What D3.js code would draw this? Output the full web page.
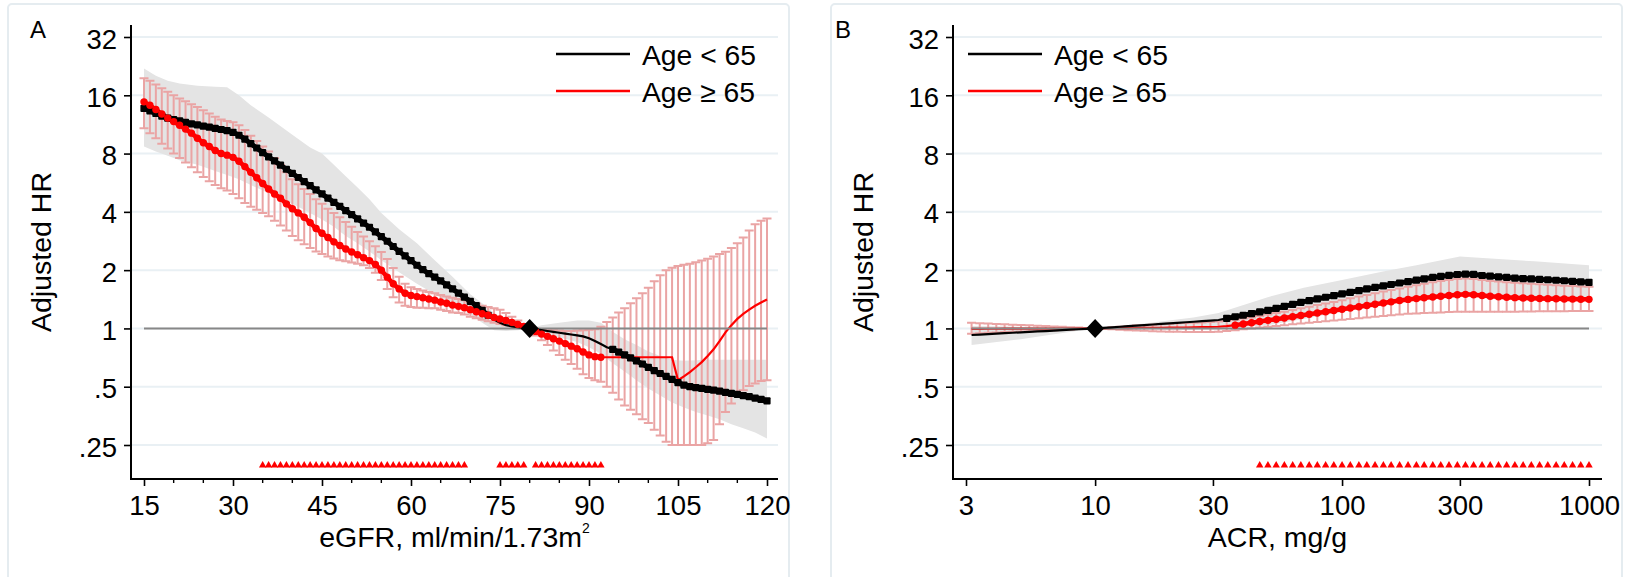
<!DOCTYPE html>
<html><head><meta charset="utf-8">
<script src="https://cdn.jsdelivr.net/npm/d3@7"></script>
<style>
body{margin:0;background:#fff}
svg{display:block}
text{font-family:"Liberation Sans",Arial,Helvetica,sans-serif;fill:#000}
</style>
</head><body>
<svg id="c" width="1625" height="577"></svg>
<script>
// ---------------- shared y axis ----------------
const yTicks = [0.25, 0.5, 1, 2, 4, 8, 16, 32];
const yTickLabels = [".25", ".5", "1", "2", "4", "8", "16", "32"];

// ---------------- Panel A : eGFR ----------------
const egfr = [15,16,17,18,19,20,21,22,23,24,25,26,27,28,29,30,31,32,33,34,35,36,37,38,39,40,41,42,43,44,45,46,47,48,49,50,51,52,53,54,55,56,57,58,59,60,61,62,63,64,65,66,67,68,69,70,71,72,73,74,75,76,77,78,79,80,81,82,83,84,85,86,87,88,89,90,91,92,93,94,95,96,97,98,99,100,101,102,103,104,105,106,107,108,109,110,111,112,113,114,115,116,117,118,119,120];
const egfrTicks = [15, 30, 45, 60, 75, 90, 105, 120];
const egfrMinorTicks = [20,25,35,40,50,55,65,70,80,85,95,100,110,115];

const blackA = [13.7,13.3,12.9,12.5,12.2,12.0,11.8,11.6,11.4,11.25,
 11.1,10.95,10.8,10.65,10.5,10.3,9.95,9.5,9.0,8.55,
 8.1,7.7,7.33,6.98,6.64,6.32,6.02,5.73,5.46,5.19,
 4.95,4.71,4.48,4.27,4.06,3.87,3.68,3.50,3.33,3.15,
 2.98,2.82,2.65,2.50,2.37,2.24,2.12,2.01,1.92,1.84,
 1.76,1.68,1.60,1.52,1.45,1.38,1.31,1.24,1.17,1.11,
 1.07,1.04,1.025,1.015,1.007,1.0,0.99,0.98,0.97,0.96,
 0.95,0.94,0.93,0.92,0.91,0.89,0.86,0.83,0.80,0.78,
 0.755,0.73,0.705,0.68,0.655,0.63,0.605,0.585,0.565,0.545,
 0.525,0.51,0.50,0.495,0.49,0.485,0.48,0.474,0.468,0.462,
 0.456,0.45,0.444,0.437,0.43,0.423];
const blackMarkA = [[15,73],[94,120]];

const bandAx  = [15,17,19,21,24,27,29,31,33,36,40,43,45,47,49,51,53,55,58,61,64,67,70,72,74,76,78,80,82,85,88,90,92,94,96,98,100,102,104,106,108,110,112,114,116,118,120];
const bandAlo = [8.7,8.2,7.8,7.4,7.0,6.5,6.2,5.9,5.5,5.0,4.4,3.95,3.65,3.35,3.0,2.75,2.5,2.25,1.95,1.7,1.5,1.32,1.18,1.07,0.98,0.97,0.98,1.0,0.95,0.9,0.85,0.8,0.74,0.66,0.6,0.54,0.49,0.45,0.415,0.39,0.37,0.355,0.34,0.32,0.305,0.29,0.27];
const bandAhi = [22.0,20.2,19.0,18.4,17.9,17.7,17.6,16.0,14.2,12.3,10.0,8.6,8.0,7.0,6.1,5.35,4.65,3.95,3.25,2.75,2.25,1.85,1.5,1.35,1.2,1.1,1.05,1.0,1.04,1.07,1.1,1.1,1.07,0.96,0.88,0.82,0.76,0.72,0.69,0.68,0.685,0.69,0.69,0.69,0.69,0.69,0.69];

const redA = [14.8,14.2,13.5,12.8,12.2,11.7,11.2,10.7,10.2,9.6,
 9.1,8.7,8.3,8.0,7.85,7.65,7.3,6.85,6.4,6.0,
 5.6,5.25,4.95,4.7,4.4,4.15,3.95,3.75,3.52,3.28,
 3.1,2.95,2.8,2.68,2.57,2.48,2.40,2.32,2.24,2.14,
 2.0,1.84,1.70,1.60,1.52,1.48,1.46,1.44,1.42,1.40,
 1.37,1.35,1.32,1.30,1.28,1.25,1.22,1.19,1.17,1.14,
 1.12,1.10,1.075,1.05,1.025,1.0,0.965,0.935,0.91,0.885,
 0.86,0.835,0.81,0.785,0.755,0.73,0.715,0.71,0.71,0.71,
 0.71,0.71,0.71,0.71,0.71,0.71,0.71,0.71,0.71,0.71,
 0.54,0.565,0.595,0.63,0.67,0.72,0.78,0.86,0.955,1.04,
 1.12,1.19,1.25,1.31,1.36,1.41];
const redLoA = [10.8,10.2,9.6,9.0,8.5,8.0,7.6,7.2,6.8,6.4,
 6.05,5.75,5.5,5.3,5.15,4.95,4.7,4.45,4.25,4.1,
 3.95,3.8,3.6,3.4,3.2,3.0,2.85,2.72,2.6,2.5,
 2.42,2.35,2.3,2.25,2.22,2.19,2.16,2.12,2.05,1.94,
 1.78,1.6,1.45,1.36,1.31,1.29,1.28,1.28,1.27,1.27,
 1.25,1.23,1.21,1.20,1.18,1.15,1.13,1.11,1.09,1.07,
 1.055,1.04,1.03,1.02,1.01,1.0,0.92,0.87,0.82,0.77,
 0.73,0.69,0.655,0.62,0.58,0.555,0.54,0.53,0.5,0.465,
 0.43,0.40,0.38,0.36,0.34,0.325,0.30,0.28,0.26,0.25,
 0.25,0.25,0.25,0.25,0.25,0.255,0.265,0.32,0.37,0.41,
 0.45,0.48,0.505,0.52,0.535,0.54];
const redHiA = [19.6,19.0,18.2,17.4,16.7,16.0,15.4,14.9,14.4,13.9,
 13.4,12.9,12.4,12.0,11.8,11.6,11.2,10.6,9.9,9.3,
 8.7,8.2,7.6,7.0,6.4,5.9,5.55,5.25,4.95,4.65,
 4.4,4.15,3.95,3.75,3.55,3.35,3.15,2.98,2.82,2.66,
 2.48,2.28,2.05,1.85,1.70,1.63,1.60,1.57,1.54,1.52,
 1.49,1.46,1.44,1.42,1.40,1.37,1.34,1.31,1.29,1.27,
 1.25,1.20,1.15,1.10,1.05,1.0,0.995,0.99,0.985,0.98,
 0.975,0.97,0.97,0.975,0.98,0.985,0.99,1.02,1.08,1.14,
 1.21,1.27,1.35,1.43,1.52,1.62,1.75,1.88,2.0,2.06,
 2.10,2.13,2.16,2.20,2.24,2.29,2.35,2.42,2.49,2.6,
 2.75,2.95,3.2,3.45,3.6,3.7];
const redMarkA = [[15,92]];
const triA = [35,36,37,38,39,40,41,42,43,44,45,46,47,48,49,50,51,52,53,54,55,56,57,58,59,60,61,62,63,64,65,66,67,68,69,75,76,77,78,79,81,82,83,84,85,86,87,88,89,90,91,92];

// ---------------- Panel B : ACR ----------------
const acr = [3.16,3.41,3.69,3.98,4.30,4.64,5.01,5.41,5.84,6.31,6.81,7.36,7.94,8.58,9.26,
 10,10.8,11.7,12.6,13.6,14.7,15.8,17.1,18.5,20.0,21.5,23.3,25.1,27.1,29.3,
 31.6,34.1,36.9,39.8,43.0,46.4,50.1,54.1,58.4,63.1,68.1,73.6,79.4,85.8,92.6,
 100,108,117,126,136,147,158,171,185,200,215,233,251,271,293,
 316,341,369,398,430,464,501,541,584,631,681,736,794,858,926,1000];
const acrTicks = [3, 10, 30, 100, 300, 1000];

const blackB = [0.925,0.930,0.935,0.940,0.945,0.950,0.955,0.959,0.965,0.969,0.975,0.979,0.985,0.990,0.995,
 1.0,1.007,1.013,1.020,1.027,1.034,1.041,1.048,1.055,1.062,1.069,1.076,1.083,1.090,1.097,
 1.105,1.127,1.149,1.170,1.193,1.217,1.240,1.268,1.299,1.331,1.364,1.393,1.420,1.449,1.477,
 1.507,1.537,1.567,1.599,1.628,1.658,1.686,1.716,1.746,1.775,1.804,1.834,1.857,1.878,1.899,
 1.909,1.903,1.876,1.862,1.848,1.834,1.821,1.810,1.801,1.792,1.784,1.774,1.763,1.752,1.740,1.728];
const blackMarkB = [[34.1,1000]];
const bandBx  = [3.16,4,5,6.3,8,10,15.8,25,31.6,50,70,100,150,200,300,400,600,1000];
const bandBlo = [0.82,0.85,0.88,0.92,0.96,1.0,0.99,0.99,1.0,1.04,1.12,1.22,1.32,1.40,1.52,1.50,1.46,1.40];
const bandBhi = [1.03,1.025,1.02,1.012,1.005,1.0,1.06,1.14,1.2,1.45,1.62,1.78,1.98,2.12,2.35,2.3,2.22,2.12];

const redB = [0.995,0.995,0.996,0.996,0.997,0.997,0.997,0.998,0.998,0.998,0.999,0.999,0.999,1.0,1.0,
 1.0,1.001,1.002,1.003,1.004,1.005,1.006,1.007,1.008,1.009,1.010,1.011,1.013,1.015,1.017,
 1.020,1.028,1.040,1.055,1.070,1.085,1.101,1.116,1.133,1.149,1.166,1.183,1.201,1.219,1.238,
 1.257,1.275,1.294,1.313,1.332,1.352,1.372,1.393,1.412,1.426,1.440,1.454,1.465,1.479,1.493,
 1.500,1.493,1.479,1.466,1.457,1.449,1.442,1.436,1.432,1.428,1.425,1.422,1.419,1.417,1.415,1.413];
const redLoB = [0.94,0.945,0.95,0.953,0.957,0.96,0.964,0.968,0.972,0.976,0.98,0.984,0.988,0.992,0.996,
 1.0,0.995,0.99,0.985,0.98,0.976,0.972,0.968,0.965,0.962,0.96,0.958,0.957,0.957,0.958,
 0.962,0.97,0.98,0.99,1.0,1.01,1.02,1.03,1.04,1.05,1.06,1.07,1.08,1.09,1.10,
 1.11,1.12,1.13,1.14,1.15,1.16,1.17,1.18,1.19,1.195,1.20,1.205,1.21,1.215,1.22,
 1.22,1.22,1.22,1.22,1.22,1.22,1.22,1.222,1.224,1.225,1.226,1.227,1.228,1.229,1.23,1.23];
const redHiB = [1.07,1.065,1.06,1.055,1.05,1.046,1.042,1.038,1.033,1.028,1.024,1.019,1.014,1.01,1.005,
 1.0,1.006,1.013,1.02,1.027,1.034,1.04,1.046,1.052,1.057,1.062,1.066,1.07,1.074,1.08,
 1.085,1.095,1.11,1.125,1.14,1.16,1.18,1.2,1.22,1.245,1.27,1.295,1.32,1.345,1.37,
 1.40,1.43,1.46,1.49,1.52,1.55,1.58,1.61,1.64,1.67,1.70,1.73,1.76,1.78,1.80,
 1.81,1.80,1.78,1.76,1.745,1.73,1.72,1.71,1.70,1.69,1.68,1.67,1.66,1.655,1.645,1.64];
const redMarkB = [[36.9,1000]];
const triB = [46.4,50.1,54.1,58.4,63.1,68.1,73.6,79.4,85.8,92.6,100,108,117,126,136,147,158,171,185,200,215,233,251,271,293,316,341,369,398,430,464,501,541,584,631,681,736,794,858,926,1000];

const legendLabels = ["Age < 65", "Age \u2265 65"];

// ---------------- drawing ----------------
const svg = d3.select("#c");
const Y = d3.scaleLog().base(2).domain([0.25, 32]).range([445, 37]);
const FONT = "Liberation Sans, Arial, sans-serif";
const PINK = "#eaa4a4", BAND = "#e4e4e4", GRID = "#e9f0f4", RED = "#ff0000";

function inRanges(v, ranges){ return ranges.some(r => v >= r[0] - 1e-9 && v <= r[1] + 1e-9); }

function drawPanel(c){
  const g = svg.append("g");
  const X = c.X;
  // frame
  g.append("rect").attr("x", c.frame[0]).attr("y", 4).attr("width", c.frame[1]-c.frame[0]).attr("height", 640)
    .attr("rx", 4).attr("fill", "#fff").attr("stroke", "#e5ecf0").attr("stroke-width", 2);
  // grid
  g.selectAll(null).data(yTicks).join("line")
    .attr("x1", c.left).attr("x2", c.right).attr("y1", d => Y(d)).attr("y2", d => Y(d))
    .attr("stroke", GRID).attr("stroke-width", 2);
  // CI band (black series)
  const band = c.bandX.map((x, i) => ({x, lo: c.bandLo[i], hi: c.bandHi[i]}));
  g.append("path").datum(band)
    .attr("d", d3.area().x(d => X(d.x)).y0(d => Y(d.lo)).y1(d => Y(d.hi)))
    .attr("fill", BAND);
  // red error bars
  const pts = c.xs.map((x, i) => ({x, b: c.black[i], r: c.red[i], lo: c.redLo[i], hi: c.redHi[i]}));
  const eb = g.append("g").attr("stroke", PINK).attr("stroke-width", 2).attr("fill", "none");
  eb.selectAll(null).data(pts).join("path")
    .attr("d", d => {
      const x = X(d.x), y1 = Y(d.lo), y2 = Y(d.hi);
      return `M${x},${y1}V${y2}M${x-4.5},${y2}H${x+4.5}M${x-4.5},${y1}H${x+4.5}`;
    });
  // lines
  const lb = d3.line().x(d => X(d.x)).y(d => Y(d.b));
  const lr = d3.line().x(d => X(d.x)).y(d => Y(d.r));
  g.append("path").datum(pts).attr("d", lr).attr("fill", "none").attr("stroke", RED).attr("stroke-width", 2.2);
  // reference line at 1
  g.append("line").attr("x1", X(c.xs[0])).attr("x2", X(c.xs[c.xs.length-1]))
    .attr("y1", Y(1)).attr("y2", Y(1)).attr("stroke", "#878787").attr("stroke-width", 2);
  g.append("path").datum(pts).attr("d", lb).attr("fill", "none").attr("stroke", "#000").attr("stroke-width", 2.2);
  // thick chains under the markers
  c.blackMark.forEach(r => {
    g.append("path").datum(pts.filter(d => inRanges(d.x, [r]))).attr("d", lb)
      .attr("fill", "none").attr("stroke", "#000").attr("stroke-width", 5);
  });
  c.redMark.forEach(r => {
    g.append("path").datum(pts.filter(d => inRanges(d.x, [r]))).attr("d", lr)
      .attr("fill", "none").attr("stroke", RED).attr("stroke-width", 4.5);
  });
  // markers
  g.selectAll(null).data(pts.filter(d => inRanges(d.x, c.blackMark))).join("rect")
    .attr("x", d => X(d.x) - 3.6).attr("y", d => Y(d.b) - 3.6).attr("width", 7.2).attr("height", 7.2)
    .attr("rx", 1).attr("fill", "#000");
  g.selectAll(null).data(pts.filter(d => inRanges(d.x, c.redMark))).join("circle")
    .attr("cx", d => X(d.x)).attr("cy", d => Y(d.r)).attr("r", 3.7).attr("fill", RED);
  // reference diamond
  const dx = X(c.refX), dy = Y(1);
  g.append("path").attr("d", `M${dx},${dy-9.5}L${dx+9},${dy}L${dx},${dy+9.5}L${dx-9},${dy}Z`).attr("fill", "#000");
  // triangles
  g.selectAll(null).data(c.tri).join("path")
    .attr("transform", d => `translate(${X(d)},465.4)`)
    .attr("d", d3.symbol().type(d3.symbolTriangle).size(24)())
    .attr("fill", RED);

  // y axis
  const ya = g.append("g").attr("transform", `translate(${c.left},0)`)
    .call(d3.axisLeft(Y).tickValues(yTicks).tickFormat((d, i) => yTickLabels[i]).tickSize(7).tickPadding(7));
  ya.select(".domain").remove();
  ya.selectAll("line").attr("stroke", "#000").attr("stroke-width", 1.6);
  ya.selectAll("text").attr("font-size", 27.5).attr("font-family", FONT).attr("dy", "0.4em").attr("fill", "#000");
  g.append("line").attr("x1", c.left).attr("x2", c.left).attr("y1", 25).attr("y2", 479.5)
    .attr("stroke", "#000").attr("stroke-width", 2);

  // x axis
  const xa = g.append("g").attr("transform", `translate(0,479)`)
    .call(d3.axisBottom(X).tickValues(c.xTicks).tickFormat(d => String(d)).tickSize(7).tickPadding(9.5));
  xa.select(".domain").remove();
  xa.selectAll("line").attr("stroke", "#000").attr("stroke-width", 1.6);
  xa.selectAll("text").attr("font-size", 27.5).attr("font-family", FONT).attr("fill", "#000");
  if (c.minor) {
    g.selectAll(null).data(c.minor).join("line")
      .attr("x1", d => X(d)).attr("x2", d => X(d)).attr("y1", 479).attr("y2", 483)
      .attr("stroke", "#000").attr("stroke-width", 1.4);
  }
  g.append("line").attr("x1", c.left - 1).attr("x2", c.right).attr("y1", 479).attr("y2", 479)
    .attr("stroke", "#000").attr("stroke-width", 2);

  // titles
  const xt = g.append("text").attr("x", (c.left + c.right) / 2).attr("y", 546.5)
    .attr("text-anchor", "middle").attr("font-size", 28.5).attr("font-family", FONT);
  xt.append("tspan").text(c.xTitle);
  if (c.xSup) xt.append("tspan").attr("font-size", 14).attr("dy", -14).text(c.xSup);
  g.append("text").attr("transform", `translate(${c.left - 80},252) rotate(-90)`)
    .attr("text-anchor", "middle").attr("font-size", 28.5).attr("font-family", FONT).text("Adjusted HR");
  g.append("text").attr("x", c.frame[0] + c.labelDx).attr("y", 38).attr("font-size", 24)
    .attr("font-family", FONT).text(c.label);

  // legend
  const lg = g.append("g");
  [["#000", 54, 65], [RED, 91, 102]].forEach((s, i) => {
    lg.append("line").attr("x1", c.legX).attr("x2", c.legX + 74).attr("y1", s[1]).attr("y2", s[1])
      .attr("stroke", s[0]).attr("stroke-width", 2.5);
    lg.append("text").attr("x", c.legX + 86).attr("y", s[2]).attr("font-size", 28.3)
      .attr("font-family", FONT).text(legendLabels[i]);
  });
}

drawPanel({
  X: d3.scaleLinear().domain([15, 120]).range([144, 767]),
  left: 131, right: 778, frame: [8, 789], label: "A", labelDx: 22,
  xs: egfr, black: blackA, red: redA, redLo: redLoA, redHi: redHiA,
  bandX: bandAx, bandLo: bandAlo, bandHi: bandAhi,
  blackMark: blackMarkA, redMark: redMarkA, refX: 80, tri: triA,
  xTicks: egfrTicks, minor: egfrMinorTicks,
  xTitle: "eGFR, ml/min/1.73m", xSup: "2", legX: 556
});
drawPanel({
  X: d3.scaleLog().domain([3, 1000]).range([966, 1589]),
  left: 953, right: 1602, frame: [831, 1622], label: "B", labelDx: 4,
  xs: acr, black: blackB, red: redB, redLo: redLoB, redHi: redHiB,
  bandX: bandBx, bandLo: bandBlo, bandHi: bandBhi,
  blackMark: blackMarkB, redMark: redMarkB, refX: 10, tri: triB,
  xTicks: acrTicks, minor: null,
  xTitle: "ACR, mg/g", xSup: null, legX: 968
});
</script>
</body></html>
